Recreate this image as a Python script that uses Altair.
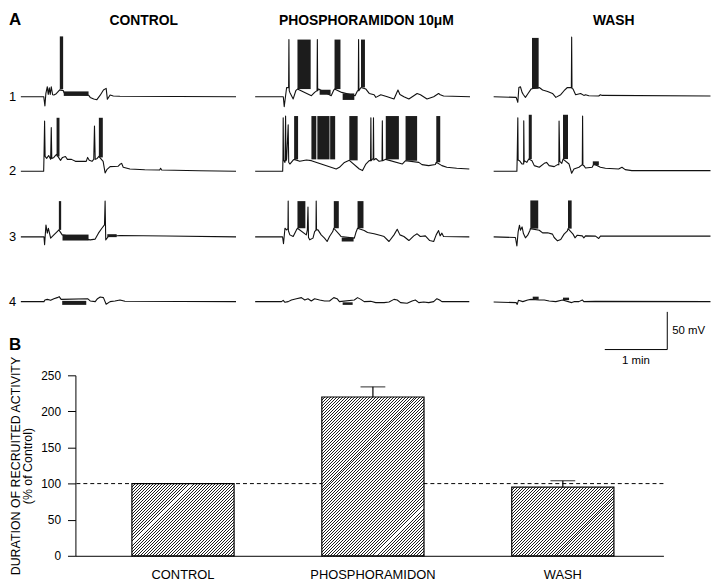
import altair as alt
import pandas as pd
import math

# ---------------- Panel B data ----------------
CATEGORIES = ["CONTROL", "PHOSPHORAMIDON", "WASH"]
MEANS = [100, 220, 95]
SEMS = [0, 14, 9]
REFERENCE_LEVEL = [100]
Y_TICKS = [0, 50, 100, 150, 200, 250]

# ---------------- Panel A data (time in s, membrane potential in mV) ----------------
COLUMN_TITLES = ["CONTROL", "PHOSPHORAMIDON 10\u03bcM", "WASH"]
COLUMN_OFFSETS_S = [0, 225, 454]
TITLE_T = [118.0, 331.8, 569.3]
ROW_LABELS = ["1", "2", "3", "4"]
ROW_OFFSETS_MV = [272, 173, 86, 0]

CONTROL_1 = [(0,0),(22,0),(23.1,-12.3),(24,4),(25.4,13.2),(26.3,3),(27.3,11.8),(28.2,3),(29.2,13.2),(30.5,2.6),(31.7,2.2),(34,4),(36,7),(37.3,9),(40.8,8),(41.5,5),(65,2),(66.6,-1),(70,-3),(73,-4),(76.2,2),(79.3,8.8),(81.9,11),(83.1,-3.5),(85.7,2.2),(88.8,1),(95,0.5),(206.6,0)]
CONTROL_1_BURSTS = [(37.4,40.6,10,80),(41.2,65,1,7)]
CONTROL_2 = [(0,0),(21.9,0),(22.2,18.4),(22.8,66.7),(23.3,19.7),(24.8,17.1),(26.7,21),(28.6,15.8),(29.2,57.9),(29.7,17.1),(31.7,18.4),(33.3,21),(34.3,22.4),(38.1,14.5),(40,18.4),(42.8,19.7),(44.7,15.8),(48.6,15.8),(52.4,13.2),(57.1,13.2),(62.8,13.2),(64.1,18.4),(65.7,14.5),(68.3,13.2),(70,15.8),(70.7,60.1),(71.4,15.8),(73.3,17.1),(74.9,19.7),(79,13.2),(80.9,-2.2),(82.8,2.6),(85.7,6.2),(93.3,6.6),(95.2,9.2),(96.8,10.5),(98.3,5.3),(104.7,3),(119,2),(133.3,1.7),(134.2,4),(135.2,1.7),(171.4,0.7),(206.6,0)]
CONTROL_2_BURSTS = [(34.3,37.1,19.7,71),(74.9,78.7,18.4,71)]
CONTROL_3 = [(0,0),(22.2,0),(22.8,-10.5),(24.1,15.8),(25.4,4.9),(26.4,11.4),(28.6,-1.7),(31.7,2.6),(34.9,7),(36.5,9.2),(39.7,2.6),(66.6,-4),(71.4,-3),(74.5,4.9),(77.8,11.4),(80.3,15.8),(80.9,47.4),(81.5,-4),(84,0.4),(95.2,1.7),(139.7,1),(206.6,0)]
CONTROL_3_BURSTS = [(36.5,38.7,9.2,47.4),(40,65,-4.9,3),(83,92,-0.4,3.5)]
CONTROL_4 = [(0,0),(22.2,0),(23.1,2.2),(25.4,3),(28.6,1.7),(31.7,3.9),(34.9,5.3),(36.8,6.6),(38.7,3),(64.1,3.9),(66.6,0.9),(71.4,0),(73.6,3.9),(76.2,6.2),(79.3,5.3),(81.9,-3.5),(85.7,0),(90.4,0.9),(95.2,2.2),(100,0.5),(206.6,0)]
CONTROL_4_BURSTS = [(39.7,62.8,-4.3,1)]

PHOSPHO_1 = [(0,0),(27,0),(27.9,-13.2),(30.2,12.2),(32.1,12),(32.4,75.8),(32.7,8),(33.3,5.7),(36.5,-3),(39,7.9),(40.6,10.1),(54,1.3),(57.1,5.7),(59.4,8),(59.7,75.8),(60,8),(60.9,10.1),(73,1.3),(75.5,8.8),(76.2,10.1),(83.1,5.7),(95.9,1.3),(98.3,7.9),(99,8),(99.3,75.8),(99.6,8),(101.6,12.2),(106.3,10.1),(109.5,4.3),(114.2,2.6),(115.9,-0.9),(120.6,2.6),(126.9,0),(133.3,-3),(137.1,8.8),(139,3),(142.8,0),(147.6,-3),(152.3,1.3),(155.5,4.3),(158.7,2.6),(165,-3),(171.4,0),(176.1,4.3),(177.7,2.6),(180.9,0.9),(206.3,0)]
PHOSPHO_1_BURSTS = [(40.6,53.3,10.1,75.8),(61.9,72.4,2.6,9.2),(76.2,81.9,10.1,75.8),(84,95.2,-4.3,4.3),(101.6,105.4,12.2,75.8)]
PHOSPHO_2 = [(0,0),(26.4,0),(26.7,18.4),(26.9,71),(27.2,15),(28.6,11.8),(29.2,73.3),(29.6,14),(30.2,16.2),(31.7,61.8),(32.2,12),(33.3,9.6),(36.5,14.9),(37.4,15.8),(42.8,13.2),(49.2,14.9),(54,14.1),(77.8,3),(80.9,5.3),(85.7,11.8),(90.4,14.5),(100,3),(103.1,0.9),(106.3,9.6),(109.5,14.1),(110.8,14),(111.1,71),(111.4,14),(113.3,17),(113.6,71),(113.9,15),(115.9,17),(119,13.2),(121.8,14),(122.1,67),(122.4,14),(125.4,15.8),(141.2,9.6),(144.4,14),(157.1,11.8),(160.2,8.8),(166.6,7.5),(173,9),(173.9,12),(179.3,7.5),(184,5.3),(193.5,4),(205.6,3)]
PHOSPHO_2_BURSTS = [(37.4,41.2,15.8,73.3),(54,58.7,15.8,73.3),(59.7,71.4,15.8,73.3),(72,76.8,15.8,73.3),(90.4,98.4,14.5,73.3),(125.4,138,15.8,73.3),(144.4,155.5,14,73.3),(173.9,177.7,12,73.3)]
PHOSPHO_3 = [(0,0),(26.3,0),(27.2,-9.2),(28.6,11.4),(30.1,9.2),(31.5,11),(31.7,47.4),(31.9,8),(33.3,2.6),(36.5,0.4),(39.6,9.2),(40.6,11.4),(49.1,2.6),(50.1,9.2),(50.7,39.5),(51.2,-1),(52.4,-4),(55.5,-1.7),(57.1,7),(58.4,9),(58.6,47.4),(58.9,9.2),(60.3,9.2),(63.4,2.6),(66.6,-1.7),(69.1,-6.2),(71.4,0.4),(74.5,7),(75.5,11.4),(81.2,2.6),(82.4,0.4),(95.2,-1.7),(96.7,5.7),(98.3,11.4),(104.7,8.3),(107.9,5.7),(114.2,4),(120.6,1.7),(123.8,0.4),(128.5,-6.2),(133.3,2.6),(136.4,10.1),(139,2.6),(142.8,0.4),(147.6,-4.9),(152.3,1.3),(155.5,4),(158.6,0.4),(163.4,1.3),(167.6,-4.9),(171.4,-6.2),(173.8,2.6),(176.1,8.3),(177.6,1.3),(179.3,4.9),(180.9,0.4),(205.6,0)]
PHOSPHO_3_BURSTS = [(40.6,48.2,11.4,47.4),(75.5,80.3,11.4,47.4),(83.1,94.5,-6.2,-0.9),(98.3,104,11.4,47.4)]
PHOSPHO_4 = [(0,0),(25.3,0),(26.9,1.7),(28.6,-0.9),(31.7,0),(34.8,2.2),(39.6,3.9),(44.4,5.3),(47.6,2.2),(50.7,3.9),(53.9,0.9),(57.1,3.9),(61.9,2.2),(66.6,0.9),(71.4,0.9),(75.5,5.3),(78.6,3.9),(80.9,0),(95.2,2.2),(98.3,5.3),(101.5,3),(104.7,0),(111,0.4),(115.8,-1.3),(123.8,-1.3),(128.5,-0.4),(133.3,3),(136.4,2.2),(139.6,-1.3),(145.9,-2.2),(150.7,0.9),(153.8,2.2),(157.1,-1.3),(161.8,-0.4),(166.6,-1.3),(171.4,0),(174.5,3.9),(177.1,2.2),(179.3,0),(205.6,0)]
PHOSPHO_4_BURSTS = [(84,93.6,-4.3,-0.9)]

WASH_1 = [(0,0),(21.6,-0.9),(23.2,-7.5),(24.2,12.2),(25.7,13.2),(27.3,5.7),(28.6,2.6),(30.5,-0.9),(32.7,3.6),(35.9,10.1),(36.8,10.5),(43.8,12.2),(47,8.8),(51.8,7),(56.5,4.3),(59.7,-0.9),(64.4,2.6),(67.6,7.9),(70.8,12.2),(74.6,12),(74.9,79),(75.2,11),(76.2,10.1),(78.7,2.6),(83.5,4.3),(86.6,1.7),(88.2,2.6),(91.4,1.3),(100.9,0.9),(102.5,2.6),(104.2,1.7),(208.2,0.9)]
WASH_1_BURSTS = [(36.8,43.2,10.5,78)]
WASH_2 = [(0,0),(22.3,0),(22.6,18.4),(23.2,71),(23.5,15),(24.8,14.1),(27.3,9.6),(28.8,9.6),(28.9,67.1),(29.3,12),(29.5,14.1),(31.8,11.8),(33.7,16.2),(36.8,14.1),(39,7.5),(43.8,5.3),(48.6,10.5),(50.8,11.8),(53.3,7.5),(58.1,6.2),(61.3,8.8),(62.6,8.8),(62.8,66.7),(63.5,13.2),(65.4,10.5),(66.6,16.2),(72.4,9.6),(74.9,-2.6),(77.1,3),(81.9,5.3),(85.1,8.8),(85.4,73.3),(85.7,8),(86.6,7.5),(88.2,4.3),(94.6,5.3),(96.2,9.6),(102.5,5.3),(107.3,4),(120,3),(123.2,5.3),(126.3,2.2),(132.7,0.9),(208.2,0.9)]
WASH_2_BURSTS = [(33.7,36.6,16.2,75),(66.6,71.4,16.2,75),(95.2,101,7.9,13.2)]
WASH_3 = [(0,0),(20.9,-0.9),(22.3,-12.2),(23.5,6.6),(24.8,15.4),(25.7,8.8),(27.3,13.2),(28.6,4.3),(30.5,-1.3),(32.7,2.2),(34.9,8.8),(35.2,10.9),(43.8,8.8),(47,5.3),(51.8,5.3),(56.5,3.6),(58.1,-0.9),(61.3,-5.3),(64.4,-3.6),(67.6,3.6),(70.8,7.9),(71.4,10.9),(76.2,3.6),(78.1,-1.3),(80.3,2.2),(85.1,1.3),(86.6,-1.3),(88.2,1.3),(97.8,0.9),(100.9,-2.2),(102.5,0.9),(208.2,0.9)]
WASH_3_BURSTS = [(35.2,42.8,10.9,48.3),(71.4,74.9,10.9,48.3)]
WASH_4 = [(0,-0.4),(21.6,-1.3),(22.6,-3.6),(23.8,1.7),(28,0),(32.7,2.2),(35.9,3),(43.8,2.2),(48.6,2.2),(53.3,0.9),(59.7,0),(66.1,2.2),(74.9,-1.3),(77.1,0),(81.9,0),(85.1,2.2),(86.6,0),(97.8,0.4),(208.2,0)]
WASH_4_BURSTS = [(37.5,43.2,2.6,6.6),(66.6,72.4,2,5.3)]

# scale bar (1 min, 50 mV)
SCALE_BAR_T_END = 620.7
SCALE_BAR_V_BASE = -63.6
SCALE_BAR_SECONDS = 60
SCALE_BAR_MV = 50
SCALE_MIN_LABEL_V = -79.4
PANEL_LABEL_T = -11.4
PANEL_A_V = 367.1
PANEL_B_V = -57.0

# ---------------- layout constants ----------------
W = 593
H = 182
A_X_DOMAIN = [52.4, 617.0]
A_Y_DOMAIN = [-337.3, -97.8]
PAD_INNER, PAD_OUTER, BAND_ALIGN = 0.462, 0.279, 0.533

TRACES = [
    (0, 0, CONTROL_1, CONTROL_1_BURSTS), (0, 1, CONTROL_2, CONTROL_2_BURSTS),
    (0, 2, CONTROL_3, CONTROL_3_BURSTS), (0, 3, CONTROL_4, CONTROL_4_BURSTS),
    (1, 0, PHOSPHO_1, PHOSPHO_1_BURSTS), (1, 1, PHOSPHO_2, PHOSPHO_2_BURSTS),
    (1, 2, PHOSPHO_3, PHOSPHO_3_BURSTS), (1, 3, PHOSPHO_4, PHOSPHO_4_BURSTS),
    (2, 0, WASH_1, WASH_1_BURSTS), (2, 1, WASH_2, WASH_2_BURSTS),
    (2, 2, WASH_3, WASH_3_BURSTS), (2, 3, WASH_4, WASH_4_BURSTS),
]

line_rows, burst_rows = [], []
for c, r, pts, bursts in TRACES:
    for t, v in pts:
        line_rows.append({"trace": f"{c}-{r}", "t": COLUMN_OFFSETS_S[c] + t, "v": ROW_OFFSETS_MV[r] + v})
    for t0, t1, v0, v1 in bursts:
        burst_rows.append({"t0": COLUMN_OFFSETS_S[c] + t0, "t1": COLUMN_OFFSETS_S[c] + t1,
                           "v0": ROW_OFFSETS_MV[r] + v0, "v1": ROW_OFFSETS_MV[r] + v1})
df_lines = pd.DataFrame(line_rows)
df_bursts = pd.DataFrame(burst_rows)


def xa(field):
    return alt.X(f"{field}:Q", scale=alt.Scale(domain=A_X_DOMAIN, nice=False, zero=False), axis=None)


def ya(field):
    return alt.Y(f"{field}:Q", scale=alt.Scale(domain=A_Y_DOMAIN, nice=False, zero=False), axis=None)


traces = alt.Chart(df_lines).mark_line(color="#111111", strokeWidth=1.1, strokeJoin="round").encode(
    x=xa("t"), y=ya("v"), detail="trace:N")
bursts = alt.Chart(df_bursts).mark_rect(color="#1c1c1c").encode(
    x=xa("t0"), x2=alt.X2("t1"), y=ya("v0"), y2=alt.Y2("v1"))

df_titles = pd.DataFrame({"t": TITLE_T, "v": [PANEL_A_V] * 3, "label": COLUMN_TITLES})
titles = alt.Chart(df_titles).mark_text(fontSize=14, fontWeight="bold", color="black",
                                        baseline="alphabetic", align="center").encode(
    x=xa("t"), y=ya("v"), text="label:N")

df_rows = pd.DataFrame({"t": [PANEL_LABEL_T] * 4, "v": ROW_OFFSETS_MV, "label": ROW_LABELS})
row_labels = alt.Chart(df_rows).mark_text(fontSize=13, color="black", baseline="middle", align="left").encode(
    x=xa("t"), y=ya("v"), text="label:N")

df_letter_a = pd.DataFrame({"t": [PANEL_LABEL_T], "v": [PANEL_A_V], "label": ["A"]})
df_letter_b = pd.DataFrame({"t": [PANEL_LABEL_T], "v": [PANEL_B_V], "label": ["B"]})
letter_a = alt.Chart(df_letter_a).mark_text(fontSize=17, fontWeight="bold", color="black",
                                            baseline="alphabetic", align="left").encode(
    x=xa("t"), y=ya("v"), text="label:N")
letter_b = alt.Chart(df_letter_b).mark_text(fontSize=17, fontWeight="bold", color="black",
                                            baseline="middle", align="left").encode(
    x=xa("t"), y=ya("v"), text="label:N")

df_sb = pd.DataFrame({"t0": [SCALE_BAR_T_END - SCALE_BAR_SECONDS], "t1": [SCALE_BAR_T_END],
                      "v0": [SCALE_BAR_V_BASE], "v1": [SCALE_BAR_V_BASE + SCALE_BAR_MV],
                      "vmid": [SCALE_BAR_V_BASE + SCALE_BAR_MV / 2],
                      "tmid": [SCALE_BAR_T_END - SCALE_BAR_SECONDS / 2],
                      "vmin": [SCALE_MIN_LABEL_V]})
sb_h = alt.Chart(df_sb).mark_rule(color="black", strokeWidth=1).encode(x=xa("t0"), x2=alt.X2("t1"), y=ya("v0"))
sb_v = alt.Chart(df_sb).mark_rule(color="black", strokeWidth=1).encode(x=xa("t1"), y=ya("v0"), y2=alt.Y2("v1"))
sb_mv = alt.Chart(df_sb).mark_text(text="50 mV", fontSize=11.5, color="black", align="left",
                                   baseline="middle", dx=5).encode(x=xa("t1"), y=ya("vmid"))
sb_min = alt.Chart(df_sb).mark_text(text="1 min", fontSize=11.5, color="black", align="center",
                                    baseline="middle").encode(x=xa("tmid"), y=ya("vmin"))

panel_a = alt.layer(traces, bursts, titles, row_labels, letter_a, letter_b,
                    sb_h, sb_v, sb_mv, sb_min)

# ---------------- Panel B ----------------
dfB = pd.DataFrame({"category": CATEGORIES, "mean": MEANS, "sem": SEMS})
dfB["upper"] = dfB["mean"] + dfB["sem"]

x_scale = alt.Scale(domain=CATEGORIES, paddingInner=PAD_INNER, paddingOuter=PAD_OUTER, align=BAND_ALIGN)
x_axis = alt.Axis(title=None, labelAngle=0, labelFontSize=13, labelColor="black", labelPadding=13,
                  ticks=False, domainColor="black", domainWidth=1, grid=False)
y_axis = alt.Axis(values=Y_TICKS, title=["DURATION OF RECRUITED ACTIVITY", "(% of Control)"],
                  titleFontSize=12.5, titleFontWeight="normal", titleColor="black", titlePadding=6,
                  titleLineHeight=12.5, labelFontSize=12, labelColor="black", labelPadding=7,
                  tickSize=8, tickColor="black", tickWidth=1, domainColor="black", domainWidth=1, grid=False)
XB = alt.X("category:N", scale=x_scale, axis=x_axis, sort=CATEGORIES)


def YB(field):
    return alt.Y(f"{field}:Q", scale=alt.Scale(domain=[0, 250], nice=False), axis=y_axis)


step = W / (len(CATEGORIES) - PAD_INNER + 2 * PAD_OUTER)
band_w = step * (1 - PAD_INNER)


def hatch(wpx, hpx, period=3, dark="#1e1e1e", light="#ffffff", duty=1 / 3):
    # diagonal "/" stripes with an exact integer pixel period
    total = wpx + hpx
    n = int(math.ceil(total / period))
    span = n * period
    c = span / (wpx ** 2 + hpx ** 2)
    stops = []
    for k in range(n):
        a = round(k / n, 6)
        b = round((k + duty) / n, 6)
        e = round((k + 1) / n, 6)
        stops += [{"offset": a, "color": dark}, {"offset": b, "color": dark},
                  {"offset": b, "color": light}, {"offset": e, "color": light}]
    return {"gradient": "linear", "x1": 0, "y1": 0, "x2": c * wpx, "y2": c * hpx, "stops": stops}


dash = alt.Chart(pd.DataFrame({"level": REFERENCE_LEVEL})).mark_rule(
    color="black", strokeWidth=1, strokeDash=[4, 3]).encode(y=YB("level"))

bar_layers = []
for cat, m in zip(CATEGORIES, MEANS):
    fill = hatch(band_w, m / 250 * H)
    bar_layers.append(
        alt.Chart(dfB).transform_filter(alt.datum.category == cat)
        .mark_bar(fill=fill, stroke="black", strokeWidth=1.2)
        .encode(x=XB, y=YB("mean"))
    )

err = alt.Chart(dfB).transform_filter(alt.datum.sem > 0).mark_rule(color="black", strokeWidth=1.2).encode(
    x=XB, y=YB("mean"), y2=alt.Y2("upper"))
cap = alt.Chart(dfB).transform_filter(alt.datum.sem > 0).mark_tick(
    color="black", thickness=1.2, size=25, orient="horizontal").encode(x=XB, y=YB("upper"))

panel_b = alt.layer(dash, *bar_layers, err, cap)

chart = (
    alt.layer(panel_b, panel_a)
    .resolve_scale(x="independent", y="independent")
    .properties(width=W, height=H, padding=0)
    .configure(font="Liberation Sans")
    .configure_view(stroke=None)
)

chart.save("out.html", embed_options={"renderer": "svg", "actions": False})
